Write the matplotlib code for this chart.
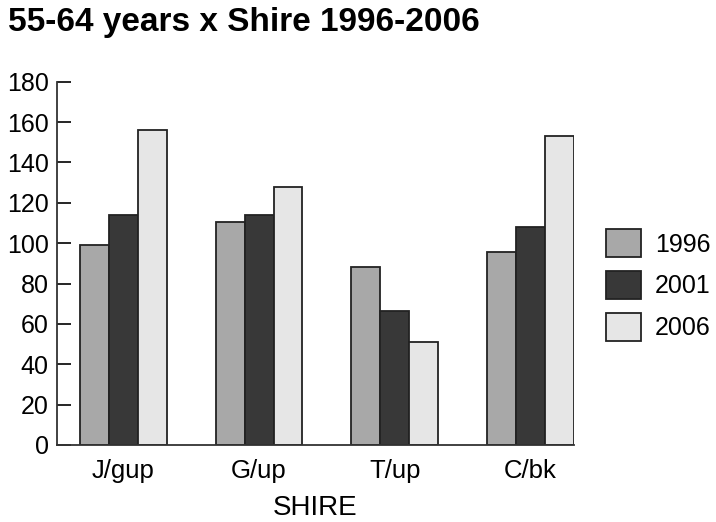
import matplotlib
matplotlib.use("Agg")
import matplotlib.pyplot as plt
import numpy as np
from matplotlib.patches import Patch

plt.rcParams['font.family'] = ['Liberation Sans', 'DejaVu Sans']

shires = ["J/gup", "G/up", "T/up", "C/bk"]
years = ["1996", "2001", "2006"]
v1996 = [99, 110.5, 88, 95.5]
v2001 = [114, 114, 66.5, 108]
v2006 = [156, 128, 51, 153]
colors = ["#a8a8a8", "#383838", "#e6e6e6"]

fig = plt.figure(figsize=(7.16, 5.22), dpi=100)
ax = fig.add_axes([57/716, 77/522, (574-57)/716, 363.3/522])

x = np.arange(len(shires))
w = 0.213
for i, (vals, c) in enumerate(zip([v1996, v2001, v2006], colors)):
    ax.bar(x + (i - 1) * w, vals, width=w, color=c, edgecolor="#222222", linewidth=1.3)

ax.set_xlim(-0.489, 3.32)
ax.set_ylim(0, 180)
ax.set_yticks(range(0, 181, 20))
ax.set_xticks(x)
ax.set_xticklabels(shires, fontsize=18.5)
ax.tick_params(axis='y', direction='in', length=10, width=1.2, labelsize=18, pad=6)
ax.tick_params(axis='x', length=0, pad=10)
for s in ['top', 'right']:
    ax.spines[s].set_visible(False)
for s in ['left', 'bottom']:
    ax.spines[s].set_linewidth(1.3)
    ax.spines[s].set_color("#333333")
ax.set_xlabel("SHIRE", fontsize=20, labelpad=9)

fig.text(8/716, 1 - 22/522, "55-64 years x Shire 1996-2006", fontsize=24, fontweight='bold', va='center', ha='left')

handles = [Patch(facecolor=c, edgecolor="#222222", linewidth=1.3) for c in colors]
fig.legend(handles, years, loc='center left', bbox_to_anchor=(606/716, 1 - 285/522), frameon=False,
           fontsize=18, handlelength=1.4, handleheight=1.36, labelspacing=0.54, handletextpad=0.56,
           borderpad=0, borderaxespad=0)

fig.savefig("out.png", dpi=100)
